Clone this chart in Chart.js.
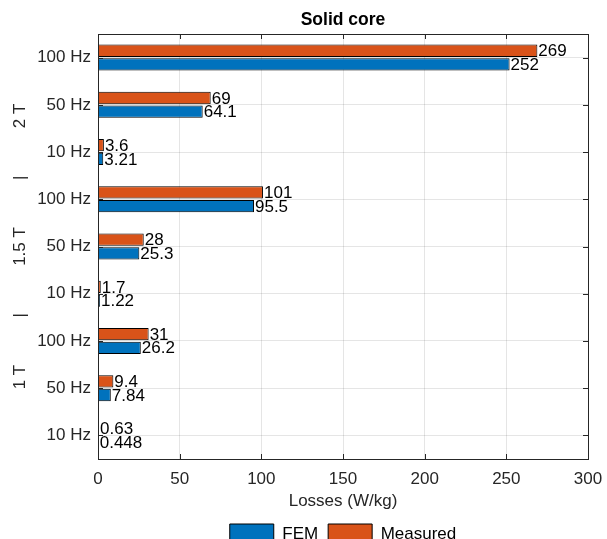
<!DOCTYPE html>
<html>
<head>
<meta charset="utf-8">
<script src="https://cdn.jsdelivr.net/npm/chart.js@4/dist/chart.umd.min.js"></script>
<style>
  html, body { margin: 0; padding: 0; background: #fff; overflow: hidden; }
  #wrap { width: 607px; height: 539px; overflow: hidden; }
  canvas { display: block; }
</style>
</head>
<body>
<div id="wrap"><canvas id="c" width="607" height="554"></canvas></div>
<script>
// Frequency categories, listed top to bottom
const categories = ['100 Hz', '50 Hz', '10 Hz', '100 Hz', '50 Hz', '10 Hz', '100 Hz', '50 Hz', '10 Hz'];
// Flux density groups, bottom to top
const groups = ['1 T', '1.5 T', '2 T'];
// Losses in W/kg, same order as categories
const femLosses = [252, 64.1, 3.21, 95.5, 25.3, 1.22, 26.2, 7.84, 0.448];
const measuredLosses = [269, 69, 3.6, 101, 28, 1.7, 31, 9.4, 0.63];
const xTicks = [0, 50, 100, 150, 200, 250, 300];

const FONT = '"Liberation Sans", Arial, Helvetica, sans-serif';
const AXIS_COLOR = '#262626';
const GRID_COLOR = 'rgba(38,38,38,0.12)';

// Title centred over the plot area; legend centred under it
const plotTitle = {
  id: 'plotTitle',
  afterLayout(chart) {
    const a = chart.chartArea;
    if (chart.legend) {
      chart.legend.left = a.left;
      chart.legend.right = a.right;
    }
  },
  afterDraw(chart) {
    const { ctx, chartArea } = chart;
    ctx.save();
    ctx.font = 'bold 17.5px ' + FONT;
    ctx.fillStyle = '#000';
    ctx.textAlign = 'center';
    ctx.textBaseline = 'middle';
    ctx.fillText('Solid core', (chartArea.left + chartArea.right) / 2, 20);
    ctx.restore();
  }
};

// Value labels at the end of every bar
const valueLabels = {
  id: 'valueLabels',
  afterDatasetsDraw(chart) {
    const { ctx } = chart;
    ctx.save();
    ctx.font = '17px ' + FONT;
    ctx.fillStyle = '#000';
    ctx.textAlign = 'left';
    ctx.textBaseline = 'middle';
    chart.data.datasets.forEach((ds, di) => {
      const meta = chart.getDatasetMeta(di);
      meta.data.forEach((bar, i) => {
        ctx.fillText(String(ds.data[i]), bar.x + 1, bar.y + 1);
      });
    });
    ctx.restore();
  }
};

// Axes box with inward tick marks
const axesBox = {
  id: 'axesBox',
  afterDatasetsDraw(chart) {
    const { ctx, chartArea: a, scales } = chart;
    const tl = 5;
    ctx.save();
    ctx.strokeStyle = AXIS_COLOR;
    ctx.lineWidth = 1;
    ctx.beginPath();
    scales.x.ticks.forEach((t, i) => {
      const px = Math.round(scales.x.getPixelForTick(i)) + 0.5;
      ctx.moveTo(px, a.bottom); ctx.lineTo(px, a.bottom - tl);
      ctx.moveTo(px, a.top); ctx.lineTo(px, a.top + tl);
    });
    scales.y.ticks.forEach((t, i) => {
      const py = Math.round(scales.y.getPixelForTick(i)) + 0.5;
      ctx.moveTo(a.left, py); ctx.lineTo(a.left + tl, py);
      ctx.moveTo(a.right, py); ctx.lineTo(a.right - tl, py);
    });
    ctx.stroke();
    ctx.strokeRect(Math.round(a.left) + 0.5, Math.round(a.top) + 0.5,
                   Math.round(a.right - a.left), Math.round(a.bottom - a.top));
    ctx.restore();
  }
};

const groupTitle = groups.join(' '.repeat(10) + '|' + ' '.repeat(10));

new Chart(document.getElementById('c'), {
  type: 'bar',
  data: {
    labels: categories,
    datasets: [
      {
        label: 'Measured',
        data: measuredLosses,
        backgroundColor: '#D95319',
        borderColor: '#000',
        borderWidth: 1,
        categoryPercentage: 0.58,
        barPercentage: 0.9
      },
      {
        label: 'FEM',
        data: femLosses,
        backgroundColor: '#0072BD',
        borderColor: '#000',
        borderWidth: 1,
        categoryPercentage: 0.58,
        barPercentage: 0.9
      }
    ]
  },
  options: {
    indexAxis: 'y',
    responsive: false,
    animation: false,
    layout: { padding: { top: 34, left: 0, right: 19, bottom: 0 } },
    plugins: {
      title: { display: false },
      tooltip: { enabled: false },
      legend: {
        position: 'bottom',
        labels: {
          boxWidth: 44,
          boxHeight: 20,
          padding: 10,
          color: '#000',
          font: { family: FONT, size: 17 },
          sort: (a, b) => b.datasetIndex - a.datasetIndex
        }
      }
    },
    scales: {
      x: {
        type: 'linear',
        min: 0,
        max: 300,
        afterBuildTicks(scale) { scale.ticks = xTicks.map(v => ({ value: v })); },
        afterFit(scale) { scale.height = 55; scale.paddingRight = 0; scale.paddingLeft = 0; },
        ticks: {
          padding: 10,
          color: AXIS_COLOR,
          font: { family: FONT, size: 17 }
        },
        grid: { color: GRID_COLOR, drawTicks: false },
        border: { display: false },
        title: {
          display: true,
          text: 'Losses (W/kg)',
          color: AXIS_COLOR,
          font: { family: FONT, size: 17 },
          padding: { top: 0, bottom: 2 }
        }
      },
      y: {
        type: 'category',
        afterFit(scale) { scale.width = 98; },
        ticks: {
          padding: 7,
          color: AXIS_COLOR,
          font: { family: FONT, size: 17 }
        },
        grid: { color: GRID_COLOR, drawTicks: false, offset: false },
        border: { display: false },
        title: {
          display: true,
          text: groupTitle,
          color: AXIS_COLOR,
          font: { family: FONT, size: 17 },
          padding: { top: 10, bottom: 0 }
        }
      }
    }
  },
  plugins: [plotTitle, valueLabels, axesBox]
});
</script>
</body>
</html>
